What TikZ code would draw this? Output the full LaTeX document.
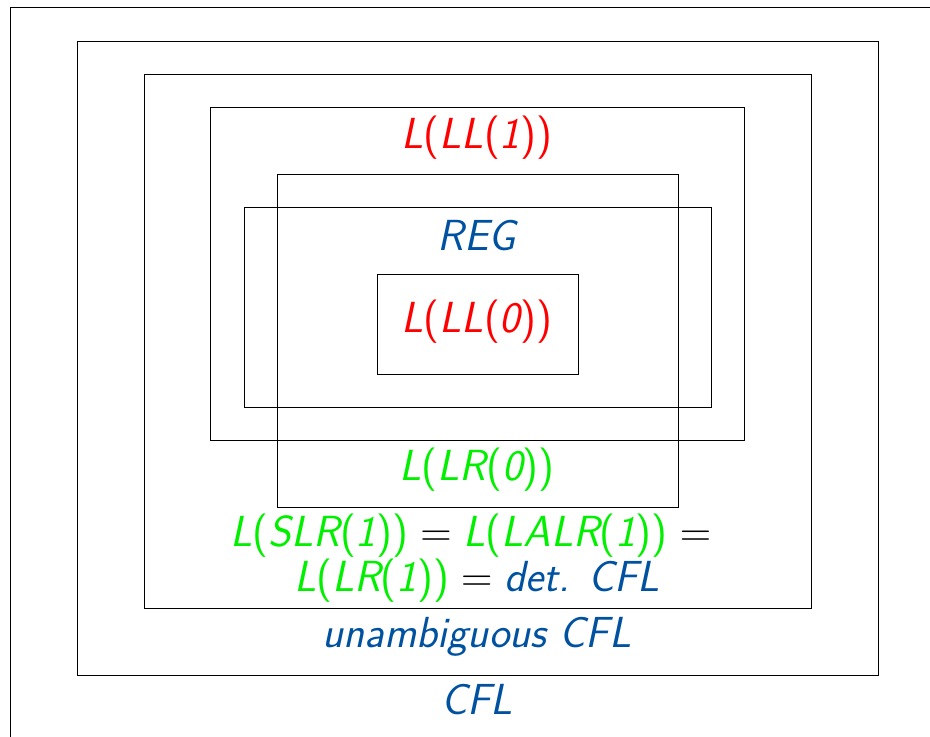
\RequirePackage{fix-cm}
\documentclass[tikz,border=0pt]{standalone}
\usepackage{tikz}
\usetikzlibrary{positioning}

\definecolor{structblue}{RGB}{0,82,160}
\definecolor{langred}{RGB}{255,0,0}
\definecolor{langgreen}{RGB}{0,240,0}

% upright parentheses and relation sign inside the slanted labels
\newcommand{\lbr}{{\upshape(}}
\newcommand{\rbr}{{\upshape)}}
\newcommand{\releq}{\textcolor{black}{$\;=\;$}}

\tikzset{
  classbox/.style={draw=black,line width=0.9pt},
  classlbl/.style={inner sep=0pt,align=center,
    font=\fontsize{43.5}{37}\selectfont\sffamily\itshape}
}

\begin{document}
\begin{tikzpicture}[x=1pt,y=-1pt]
\useasboundingbox (0,0) rectangle (930,737);
\clip (0,0) rectangle (930,737);

% frame and the nested language classes
\draw[classbox] (10,7) rectangle (960,760);
\draw[classbox] (77,41) rectangle (878,675);
\draw[classbox] (144,74) rectangle (811,608);
\draw[classbox] (210,107) rectangle (744,440);
\draw[classbox] (277,174) rectangle (678,507);
\draw[classbox] (244,207) rectangle (711,407);
\draw[classbox] (377,274) rectangle (578,374);

% labels
\node[classlbl,text=langred] (ll1) at (477,138) {L\lbr LL\lbr 1\rbr\rbr};
\node[classlbl,text=structblue] (reg) at (477,236) {REG};
\node[classlbl,text=langred] (ll0) at (477,322) {L\lbr LL\lbr 0\rbr\rbr};
\node[classlbl,text=langgreen] (lr0) at (477,470) {L\lbr LR\lbr 0\rbr\rbr};
\node[classlbl,text=langgreen] (lr1) at (477,558)
  {L\lbr SLR\lbr 1\rbr\rbr\releq L\lbr LALR\lbr 1\rbr\rbr\releq\\
   L\lbr LR\lbr 1\rbr\rbr\releq\textcolor{structblue}{det. CFL}};
\node[classlbl,text=structblue] (ucfl) at (477,637) {unambiguous CFL};
\node[classlbl,text=structblue] (cfl) at (477,700) {CFL};
\end{tikzpicture}
\end{document}
